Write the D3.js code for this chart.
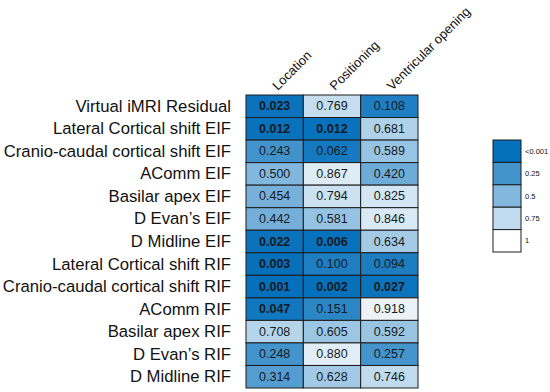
<!DOCTYPE html>
<html><head><meta charset="utf-8">
<script src="https://cdn.jsdelivr.net/npm/d3@7"></script>
<style>body{margin:0;background:#fff}svg{display:block}</style>
</head><body>
<script>
const rows = ["Virtual iMRI Residual","Lateral Cortical shift EIF","Cranio-caudal cortical shift EIF","AComm EIF","Basilar apex EIF","D Evan\u2019s EIF","D Midline EIF","Lateral Cortical shift RIF","Cranio-caudal cortical shift RIF","AComm RIF","Basilar apex RIF","D Evan\u2019s RIF","D Midline RIF"];
const columns = ["Location","Positioning","Ventricular opening"];
const location_ = [0.023,0.012,0.243,0.500,0.454,0.442,0.022,0.003,0.001,0.047,0.708,0.248,0.314];
const positioning = [0.769,0.012,0.062,0.867,0.794,0.581,0.006,0.100,0.002,0.151,0.605,0.880,0.628];
const ventricular = [0.108,0.681,0.589,0.420,0.825,0.846,0.634,0.094,0.027,0.918,0.592,0.257,0.746];
const legendValues = [0,0.25,0.5,0.75,1];
const legendLabels = ["<0.001","0.25","0.5","0.75","1"];

const series = [location_, positioning, ventricular];
const cells = [];
rows.forEach((r,i)=>columns.forEach((c,j)=>cells.push({r,c,v:series[j][i]})));

const W=550,H=392;
const svg=d3.select("body").append("svg").attr("width",W).attr("height",H);
const x=d3.scaleBand().domain(columns).range([246,418]);
const y=d3.scaleBand().domain(rows).range([95,388]);
const color=d3.scaleLinear().domain([0,1]).range(["#0570bb","#ffffff"]);

svg.append("g").selectAll("rect").data(cells).join("rect")
  .attr("x",d=>x(d.c)).attr("y",d=>y(d.r))
  .attr("width",x.bandwidth()).attr("height",y.bandwidth())
  .attr("fill",d=>color(d.v)).attr("stroke","#1c1c1c").attr("stroke-width",1);

svg.append("g").selectAll("text").data(cells).join("text")
  .attr("x",d=>x(d.c)+x.bandwidth()/2).attr("y",d=>y(d.r)+y.bandwidth()/2)
  .attr("text-anchor","middle").attr("dominant-baseline","central")
  .attr("font-family","Liberation Sans, Arial, sans-serif").attr("font-size",12.5)
  .attr("font-weight",d=>d.v<0.05?"bold":"normal")
  .attr("fill","#161a22")
  .text(d=>d.v.toFixed(3));

svg.append("g").selectAll("text").data(rows).join("text")
  .attr("x",231).attr("y",d=>y(d)+y.bandwidth()/2)
  .attr("text-anchor","end").attr("dominant-baseline","central")
  .attr("font-family","Liberation Sans, Arial, sans-serif").attr("font-size",16.7)
  .attr("fill","#111").text(d=>d);

svg.append("g").selectAll("text").data(columns).join("text")
  .attr("transform",d=>`translate(${x(d)+x.bandwidth()/2+3},91) rotate(-45)`)
  .attr("font-family","Liberation Sans, Arial, sans-serif").attr("font-size",13)
  .attr("fill","#111").text(d=>d);

const ly=d3.scaleBand().domain(legendValues).range([140,252]);
const lg=svg.append("g");
lg.selectAll("rect").data(legendValues).join("rect")
  .attr("x",493).attr("y",d=>ly(d)).attr("width",28).attr("height",ly.bandwidth())
  .attr("fill",d=>color(d)).attr("stroke","#1c1c1c").attr("stroke-width",1);
lg.selectAll("text").data(legendValues).join("text")
  .attr("x",525).attr("y",d=>ly(d)+ly.bandwidth()/2)
  .attr("dominant-baseline","central")
  .attr("font-family","Liberation Sans, Arial, sans-serif").attr("font-size",7.5)
  .attr("fill","#111").text((d,i)=>legendLabels[i]);
</script>
</body></html>
